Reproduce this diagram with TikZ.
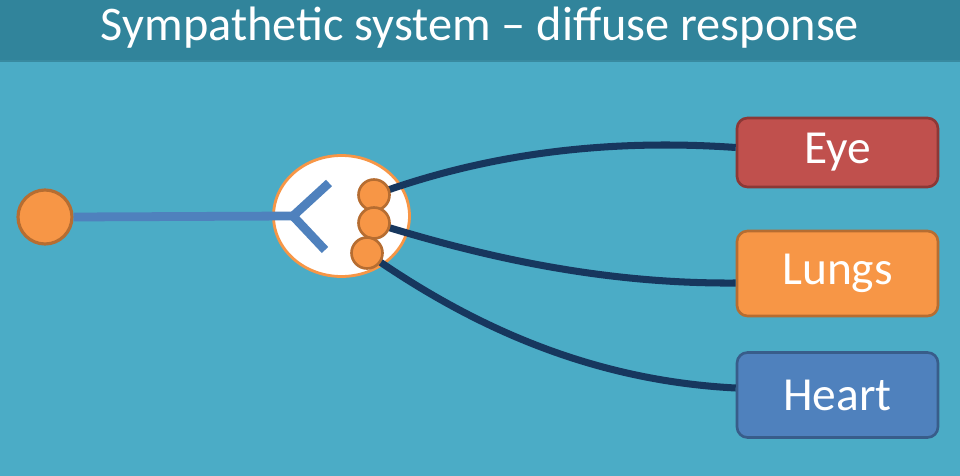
\documentclass[tikz,border=0pt]{standalone}
\usepackage{fontspec}
\setmainfont{Carlito}
\usetikzlibrary{shapes.geometric, positioning}

\definecolor{sea}{HTML}{4BACC6}
\definecolor{bar}{HTML}{31849B}
\definecolor{orangef}{HTML}{F79646}
\definecolor{oranged}{HTML}{B66D31}
\definecolor{redf}{HTML}{C0504D}
\definecolor{redd}{HTML}{8C3836}
\definecolor{bluef}{HTML}{4F81BD}
\definecolor{blued}{HTML}{385D8A}
\definecolor{navy}{HTML}{17375E}

\begin{document}
\begin{tikzpicture}[
  x=0.02cm, y=-0.02cm,
  organ/.style={draw, line width=1.5pt, rounded corners=6pt, minimum width=4.02cm,
                text=white, font=\fontsize{27}{30}\selectfont},
  knob/.style={circle, draw=oranged, fill=orangef, line width=1.5pt, minimum size=0.62cm, inner sep=0pt},
  axon/.style={bluef, line width=5pt},
  fibre/.style={navy, line width=4pt}
]
  \useasboundingbox (0,0) rectangle (960,476);
  \fill[sea] (0,0) rectangle (960,476);
  \fill[bar] (0,0) rectangle (960,60);
  \fill[bar!80!black, opacity=0.5] (0,60) rectangle (960,62);
  \node[text=white, font=\fontsize{27.5}{32}\selectfont] (title) at (480,28) {Sympathetic system -- diffuse response};

  % targets
  \node[organ, fill=redf, draw=redd, minimum height=1.38cm] (eye) at (837.5,152.5) {Eye};
  \node[organ, fill=orangef, draw=oranged, minimum height=1.7cm] (lungs) at (837.5,273.5) {Lungs};
  \node[organ, fill=bluef, draw=blued, minimum height=1.7cm] (heart) at (837.5,395) {Heart};

  % neuron
  \node[circle, draw=oranged, fill=orangef, line width=1.8pt, minimum size=1.08cm] (cell) at (45,217) {};
  \node[ellipse, draw=orangef, fill=white, line width=1.6pt, minimum width=2.72cm, minimum height=2.42cm] (gang) at (341.5,216) {};
  \coordinate (fork) at (293,216);
  \coordinate (armA) at (329,183);
  \coordinate (armB) at (325,250);
  \draw[axon] (cell.east) -- (fork);
  \draw[axon] (armA) -- (fork) -- (armB);

  \coordinate (k1) at (374,195);
  \coordinate (k2) at (374,223);
  \coordinate (k3) at (367,253);

  \draw[fibre] (k1) .. controls (480,156) and (600,138) .. ([yshift=0.1cm]eye.west);
  \draw[fibre] (k2) .. controls (480,256) and (600,284) .. ([yshift=-0.19cm]lungs.west);
  \draw[fibre] (k3) .. controls (460,318) and (580,380) .. ([yshift=0.14cm]heart.west);

  \node[knob] (n1) at (k1) {};
  \node[knob] (n2) at (k2) {};
  \node[knob] (n3) at (k3) {};
\end{tikzpicture}
\end{document}
